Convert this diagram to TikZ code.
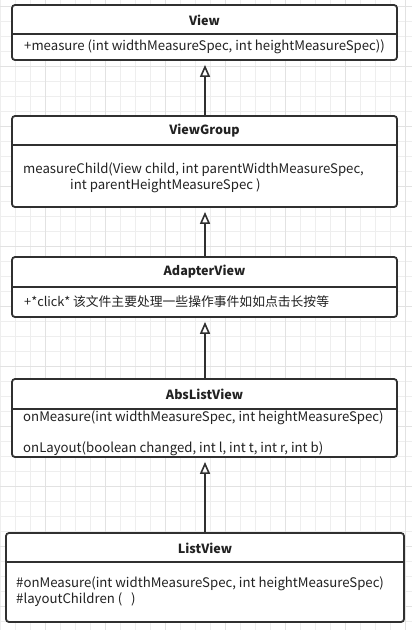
\documentclass[tikz,border=0pt]{standalone}
\usepackage{fontspec}
\setmainfont{Noto Sans CJK SC}
\usetikzlibrary{arrows.meta}
\definecolor{boxc}{HTML}{303030}
\definecolor{textc}{HTML}{222222}
\definecolor{gridminor}{HTML}{EEEEEE}
\definecolor{gridmajor}{HTML}{E2E2E2}
\begin{document}
\begin{tikzpicture}[x=1pt,y=-1pt,
  classbox/.style={draw=boxc, line width=1.8pt, rounded corners=3pt, fill=white, inner sep=0pt},
  divider/.style={draw=boxc, line width=1.8pt},
  title/.style={font=\fontsize{12.6}{14}\selectfont\bfseries, text=textc, inner sep=0pt},
  member/.style={font=\fontsize{13.2}{15}\selectfont, text=textc, anchor=west, inner sep=0pt, align=left},
  cjk/.style={font=\fontsize{12.8}{15}\selectfont},
  inherit/.style={draw=boxc, line width=1.8pt, -{Triangle[open, length=12pt, width=10pt, line width=1.6pt]}, shorten >=4pt}]
\useasboundingbox (0,0) rectangle (412,630);
\fill[white] (0,0) rectangle (412,630);
% grid
\foreach \i in {0,...,27} {\draw[gridminor, line width=0.8pt] ({0.7+15*\i},0) -- ({0.7+15*\i},630);}
\foreach \j in {0,...,41} {\draw[gridminor, line width=0.8pt] (0,{6.7+15*\j}) -- (412,{6.7+15*\j});}
\foreach \i in {0,...,6} {\draw[gridmajor, line width=0.8pt] ({45.7+60*\i},0) -- ({45.7+60*\i},630);}
\foreach \j in {0,...,10} {\draw[gridmajor, line width=0.8pt] (0,{6.7+60*\j}) -- (412,{6.7+60*\j});}

% View
\node[classbox, minimum width=385pt, minimum height=55pt] (view) at (204.5,32.5) {};
\draw[divider] (view.west |- 0,34) -- (view.east |- 0,34);
\node[title] (viewt) at (204.5,20) {View};
\node[member] (viewm) at (24,47) {+measure (int widthMeasureSpec, int heightMeasureSpec))};

% ViewGroup
\node[classbox, minimum width=385pt, minimum height=91pt] (vg) at (204.5,161.5) {};
\draw[divider] (vg.west |- 0,145) -- (vg.east |- 0,145);
\node[title] (vgt) at (204.5,131) {ViewGroup};
\node[member] (vgm1) at (23,170) {measureChild(View child, int parentWidthMeasureSpec,};
\node[member] (vgm2) at (70,186) {int parentHeightMeasureSpec )};

% AdapterView
\node[classbox, minimum width=385pt, minimum height=60pt] (av) at (204.5,287) {};
\draw[divider] (av.west |- 0,287) -- (av.east |- 0,287);
\node[title] (avt) at (204.5,272) {AdapterView};
\node[member, cjk] (avm) at (24,302) {+*click* 该文件主要处理一些操作事件如如点击长按等};

% AbsListView
\node[classbox, minimum width=385pt, minimum height=78pt] (alv) at (204.5,418) {};
\draw[divider] (alv.west |- 0,409) -- (alv.east |- 0,409);
\node[title] (alvt) at (204.5,394) {AbsListView};
\node[member] (alvm1) at (23,418) {onMeasure(int widthMeasureSpec, int heightMeasureSpec)};
\node[member] (alvm2) at (23,449) {onLayout(boolean changed, int l, int t, int r, int b)};

% ListView
\node[classbox, minimum width=398pt, minimum height=89pt] (lv) at (205,577.5) {};
\draw[divider] (lv.west |- 0,562) -- (lv.east |- 0,562);
\node[title] (lvt) at (205,548) {ListView};
\node[member] (lvm1) at (16,584) {\#onMeasure(int widthMeasureSpec, int heightMeasureSpec)};
\node[member] (lvm2) at (16,600) {\#layoutChildren (\ \ \ )};

% inheritance
\draw[inherit] (vg.north -| 205,0) -- (view.south -| 205,0);
\draw[inherit] (av.north -| 205,0) -- (vg.south -| 205,0);
\draw[inherit] (alv.north -| 205,0) -- (av.south -| 205,0);
\draw[inherit] (lv.north -| 205,0) -- (alv.south -| 205,0);
\end{tikzpicture}
\end{document}
